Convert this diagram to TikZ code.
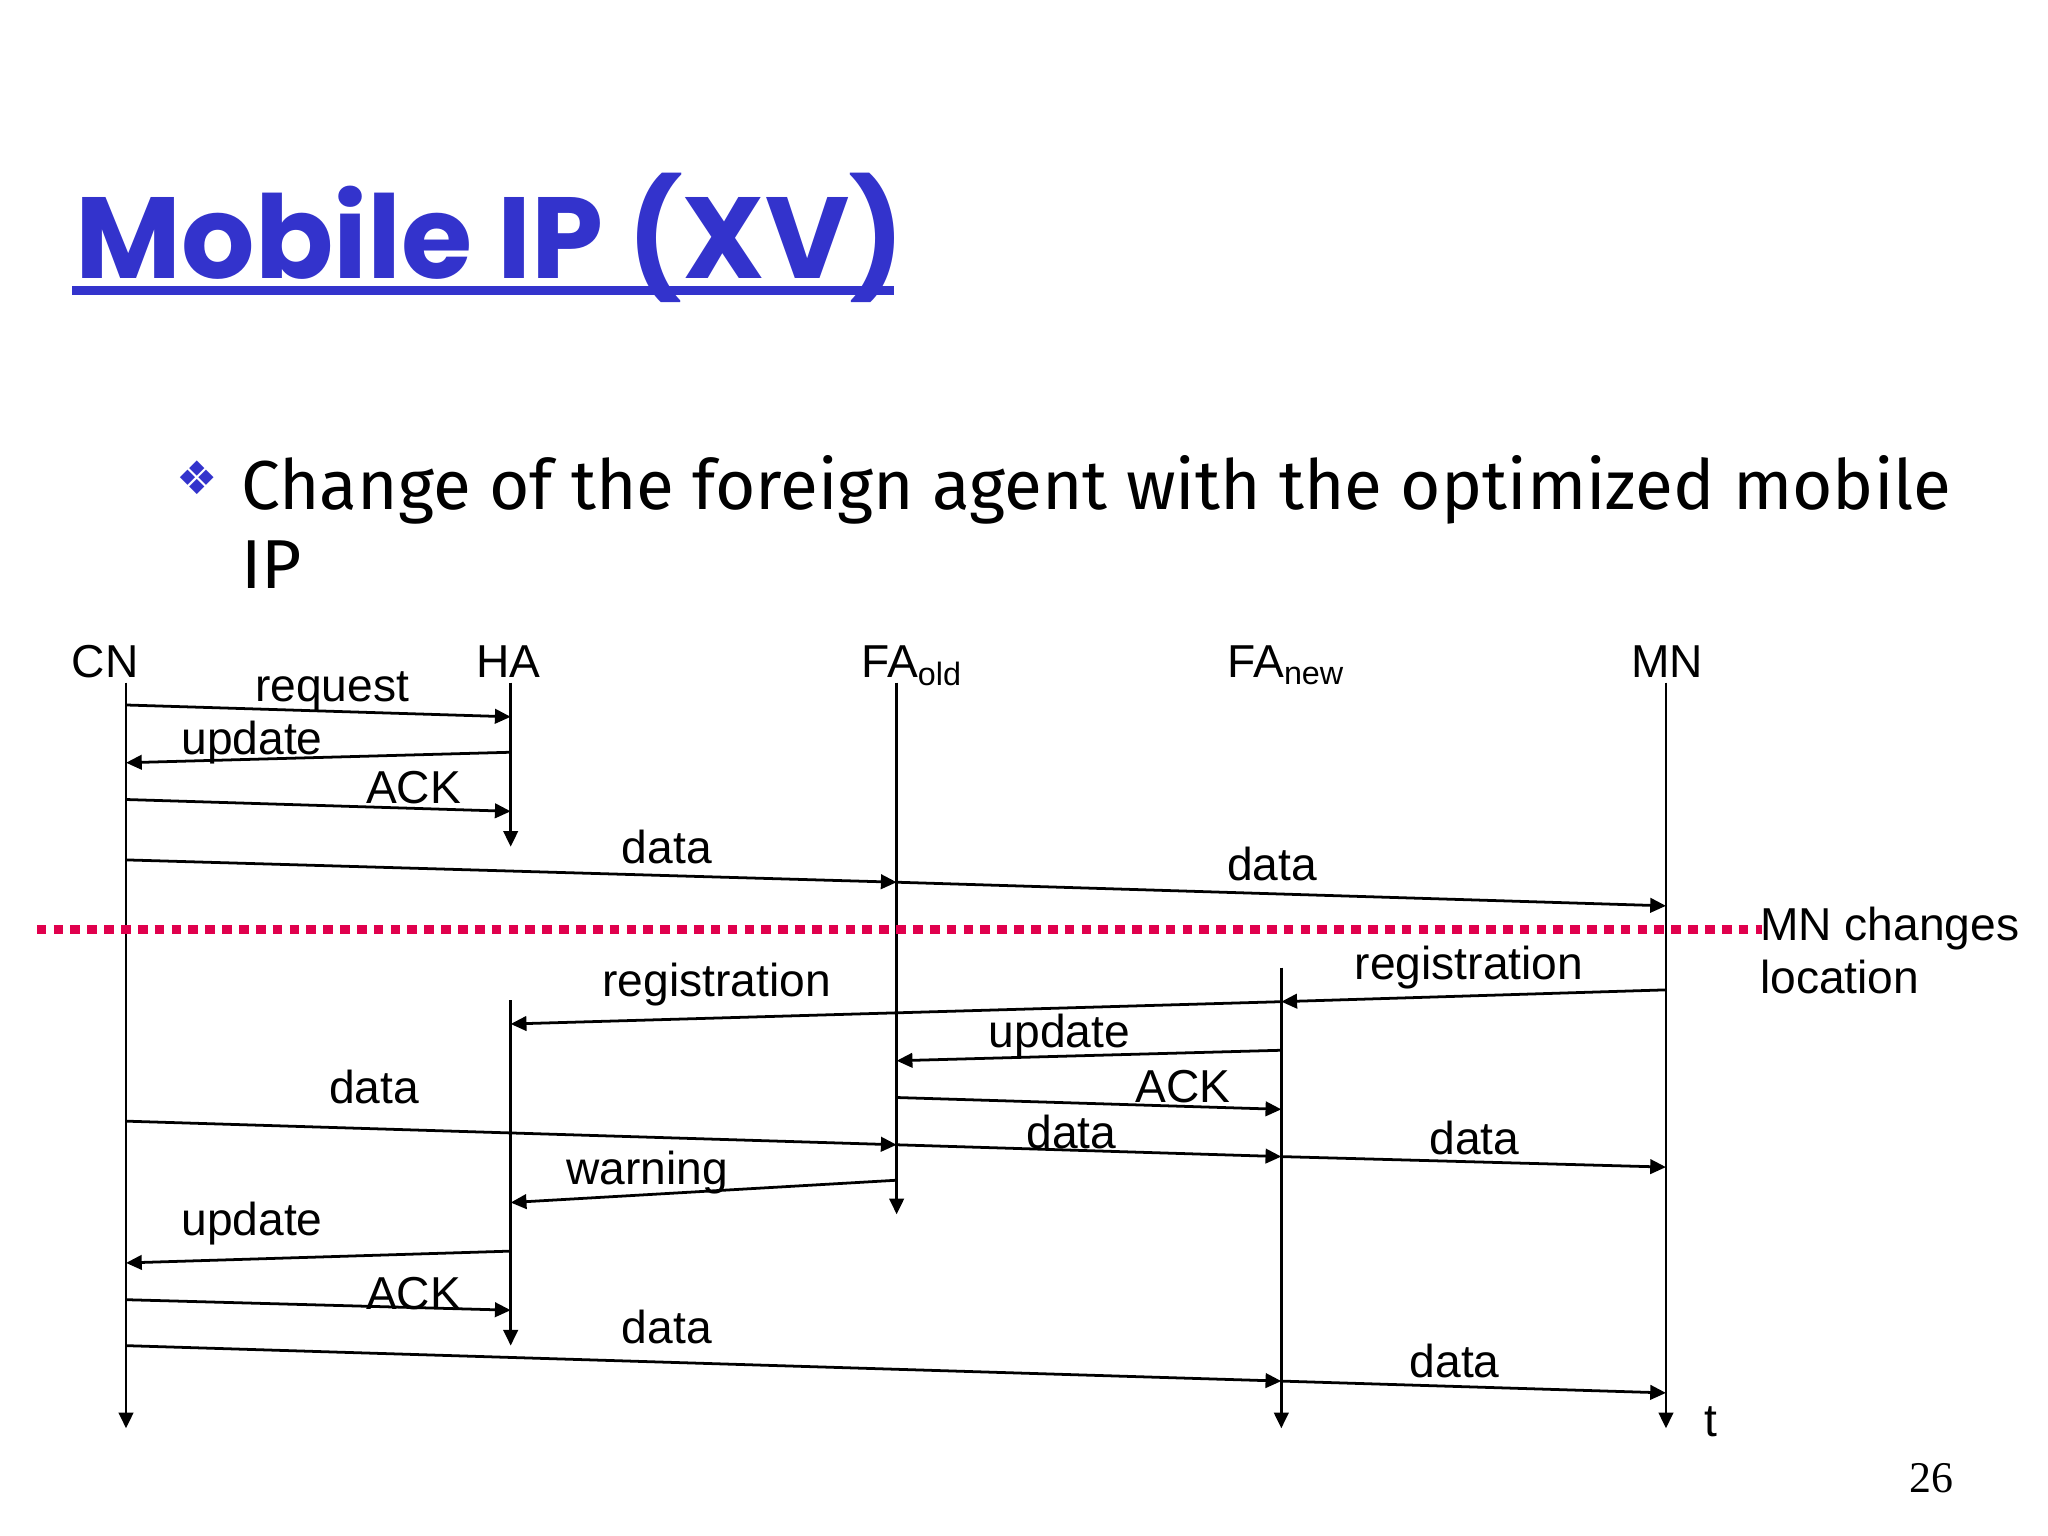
\documentclass[tikz,border=0pt]{standalone}
\usepackage{fontspec}
\setmainfont{Liberation Sans}
\newfontfamily\titlefont{Poppins}
\newfontfamily\bodyfont{Fira Sans}
\newfontfamily\symfont{DejaVu Sans}
\newfontfamily\numfont{Liberation Serif}
\usetikzlibrary{arrows.meta}
\definecolor{tblue}{HTML}{3333CC}
\definecolor{dotred}{HTML}{E0004D}
\tikzset{
  life/.style={line width=0.6pt,-{Triangle[length=1.2mm,width=1.1mm]}},
  msg/.style={line width=0.6pt,-{Triangle[length=1.2mm,width=1.1mm]}},
  lbl/.style={font=\fontsize{10pt}{11.5pt}\selectfont,inner sep=0pt},
}
\begin{document}
\begin{tikzpicture}[x=0.01cm,y=-0.01cm]
\useasboundingbox (0,0) rectangle (1560,1170);
% title
\node[anchor=base west,inner sep=0pt,text=tblue,font=\titlefont\bfseries\fontsize{25pt}{28pt}\selectfont] (title) at (57,212) {Mobile IP (XV)};
\draw[tblue,line width=2pt] (55,221) -- (681,221);
\node[text=tblue,font=\symfont\fontsize{10pt}{12pt}\selectfont,inner sep=0pt] (bul) at (150,364) {❖};
\node[anchor=base west,inner sep=0pt,font=\bodyfont\fontsize{15pt}{18pt}\selectfont] (b1) at (183,388) {Change of the foreign agent with the optimized mobile};
\node[anchor=base west,inner sep=0pt,font=\bodyfont\fontsize{15pt}{18pt}\selectfont] (b2) at (183,448) {IP};
% entities
\node[lbl] (CN) at (80,504) {CN};
\node[lbl] (HA) at (387,504) {HA};
\node[lbl] (FAo) at (695,507) {FA\textsubscript{old}};
\node[lbl] (FAn) at (980,507) {FA\textsubscript{new}};
\node[lbl] (MN) at (1270,504) {MN};
% lifelines
\draw[life] (96,520) -- (96,1088);
\draw[life] (389,520) -- (389,645);
\draw[life] (389,762) -- (389,1025);
\draw[life] (683,520) -- (683,925);
\draw[life] (976,737) -- (976,1088);
\draw[life] (1269,520) -- (1269,1088);
% dotted line
\draw[dotred,line width=2.1pt,dash pattern=on 2.1pt off 1.55pt] (28,708) -- (1342,708);
\node[lbl,anchor=west,align=left] (chg) at (1340,724) {MN changes\\location};
% messages
\draw[msg] (96,537) -- (389,546); \node[lbl] at (253,527) {request};
\draw[msg] (389,573) -- (96,581); \node[lbl] at (192,566) {update};
\draw[msg] (96,609) -- (389,618); \node[lbl] at (315,600) {ACK};
\draw[msg] (96,655) -- (683,672); \node[lbl] at (508,645) {data};
\draw[msg] (683,672) -- (1269,690); \node[lbl] at (969,658) {data};
\draw[msg] (1269,754) -- (976,763); \node[lbl] at (1119,737) {registration};
\draw[msg] (976,763) -- (389,780); \node[lbl] at (546,750) {registration};
\draw[msg] (976,800) -- (683,808); \node[lbl] at (807,789) {update};
\draw[msg] (683,836) -- (976,845); \node[lbl] at (901,828) {ACK};
\draw[msg] (96,854) -- (683,872); \node[lbl] at (285,828) {data};
\draw[msg] (683,872) -- (976,881); \node[lbl] at (816,862) {data};
\draw[msg] (976,881) -- (1269,889); \node[lbl] at (1123,867) {data};
\draw[msg] (683,899) -- (389,916); \node[lbl] at (493,893) {warning};
\draw[msg] (389,953) -- (96,962); \node[lbl] at (192,932) {update};
\draw[msg] (96,990) -- (389,998); \node[lbl] at (315,985) {ACK};
\draw[msg] (96,1025) -- (976,1052); \node[lbl] at (508,1011) {data};
\draw[msg] (976,1052) -- (1269,1061); \node[lbl] at (1108,1037) {data};
\node[lbl] (t) at (1303,1083) {t};
\node[inner sep=0pt,font=\numfont\fontsize{9.5pt}{12pt}\selectfont] (pg) at (1471,1126) {26};
\end{tikzpicture}
\end{document}
